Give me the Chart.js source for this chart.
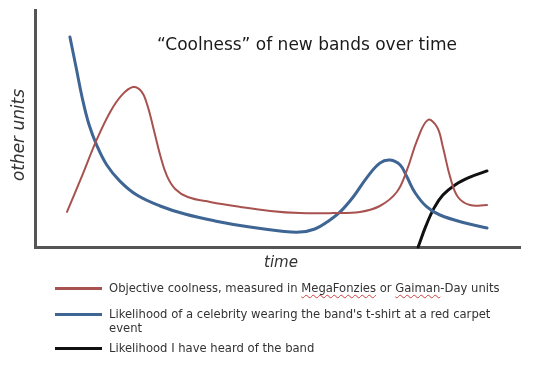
<!DOCTYPE html>
<html>
<head>
<meta charset="utf-8">
<script src="https://cdn.jsdelivr.net/npm/chart.js@4.4.1/dist/chart.umd.min.js"></script>
<style>
  html, body { margin: 0; padding: 0; background: #fff; }
  #wrap { position: relative; width: 540px; height: 372px; overflow: hidden; }
  canvas { position: absolute; left: 0; top: 0; }
  .leg { position: absolute; left: 55px; font-family: "DejaVu Sans", sans-serif; font-size: 11.6px; color: #333; line-height: 14px; }
  .leg .sw { position: absolute; left: 0; width: 47px; height: 3px; }
  .leg .tx { position: absolute; left: 54px; width: 402px; white-space: normal; }
  .sp { text-decoration: underline wavy #d04040; text-decoration-thickness: 1px; text-underline-offset: 2px; }
</style>
</head>
<body>
<div id="wrap">
  <canvas id="c" width="540" height="372"></canvas>
  <div class="leg" style="top:281px"><div class="sw" style="top:6px;background:#A8524F"></div><div class="tx" id="l0"></div></div>
  <div class="leg" style="top:307px"><div class="sw" style="top:6px;background:#3E6594"></div><div class="tx" id="l1"></div></div>
  <div class="leg" style="top:341px"><div class="sw" style="top:6px;background:#111"></div><div class="tx" id="l2"></div></div>
</div>
<script>
// ---- data (time vs "other units") ----
const seriesNames = [
  "Objective coolness, measured in MegaFonzies or Gaiman-Day units",
  "Likelihood of a celebrity wearing the band's t-shirt at a red carpet event",
  "Likelihood I have heard of the band"
];
const coolX = [6.6, 9.7, 12.6, 15.5, 17.9, 20.2, 21.9, 23.1, 24.3, 25.8, 27.2, 28.9, 31.5, 36.1, 42.3, 48.5, 54.6, 61.4, 67.0, 71.1, 74.6, 76.7, 78.8, 81.0, 82.9, 84.1, 85.6, 87.2, 89.7, 93.2];
const coolY = [14.8, 30.0, 44.7, 57.0, 64.1, 67.5, 65.8, 60.3, 51.1, 38.8, 30.0, 24.5, 21.1, 19.0, 16.9, 15.2, 14.3, 14.3, 14.8, 17.3, 23.2, 32.5, 45.1, 53.6, 50.6, 42.2, 29.5, 21.1, 17.7, 17.7];
const celebX = [7.2, 8.5, 9.7, 11.1, 12.8, 14.8, 17.5, 21.0, 25.8, 30.9, 37.1, 44.3, 50.5, 54.6, 57.7, 60.2, 62.9, 65.6, 68.5, 71.1, 73.2, 75.3, 76.7, 78.4, 80.8, 83.5, 88.7, 93.2];
const celebY = [88.6, 75.5, 63.3, 51.9, 42.6, 34.6, 27.8, 21.9, 17.3, 13.9, 11.0, 8.4, 6.8, 6.3, 7.6, 10.5, 14.8, 21.1, 29.5, 35.4, 36.7, 34.6, 29.5, 22.8, 16.9, 13.5, 10.1, 8.0];
const heardX = [79.0, 80.6, 82.3, 84.1, 86.6, 89.7, 93.2];
const heardY = [0, 8.9, 16.5, 21.9, 26.2, 29.5, 32.1];
const titleText = "\u201CCoolness\u201D of new bands over time";
const xTitle = "time";
const yTitle = "other units";

const pts = (xs, ys) => xs.map((x, i) => ({ x, y: ys[i] }));
const colors = ["#A8524F", "#3E6594", "#111111"];

// legend (HTML text)
document.getElementById('l0').innerHTML = 'Objective coolness, measured in <span class="sp">MegaFonzies</span> or <span class="sp">Gaiman</span>-Day units';
document.getElementById('l1').textContent = seriesNames[1];
document.getElementById('l2').textContent = seriesNames[2];

function fitFont(ctx, text, targetW, style, family) {
  let size = 20;
  ctx.font = style + " " + size + "px " + family;
  const w = ctx.measureText(text).width;
  size = size * targetW / w;
  ctx.font = style + " " + size.toFixed(2) + "px " + family;
  return size;
}

const textPlugin = {
  id: 'texts',
  afterDraw(chart) {
    const ctx = chart.ctx;
    const fam = '"DejaVu Sans", sans-serif';
    ctx.save();
    ctx.fillStyle = '#1a1a1a';
    ctx.textAlign = 'center';
    ctx.textBaseline = 'middle';
    fitFont(ctx, titleText, 300, 'normal', fam);
    ctx.fillText(titleText, 307, 46);
    ctx.fillStyle = '#333';
    fitFont(ctx, xTitle, 34, 'italic', fam);
    ctx.fillText(xTitle, 281, 263);
    ctx.translate(20, 135);
    ctx.rotate(-Math.PI / 2);
    fitFont(ctx, yTitle, 92, 'italic', fam);
    ctx.fillText(yTitle, 0, 0);
    ctx.restore();
  }
};

new Chart(document.getElementById('c'), {
  type: 'scatter',
  data: {
    datasets: [
      { label: seriesNames[0], data: pts(coolX, coolY), borderColor: colors[0], borderWidth: 2 },
      { label: seriesNames[1], data: pts(celebX, celebY), borderColor: colors[1], borderWidth: 3 },
      { label: seriesNames[2], data: pts(heardX, heardY), borderColor: colors[2], borderWidth: 3 }
    ].map(d => Object.assign(d, { showLine: true, pointRadius: 0, pointHoverRadius: 0, tension: 0.4, fill: false, clip: false, borderCapStyle: 'round', borderJoinStyle: 'round' }))
  },
  options: {
    responsive: false,
    animation: false,
    events: [],
    layout: { padding: { left: 35, right: 20, top: 10, bottom: 125 } },
    plugins: { legend: { display: false }, tooltip: { enabled: false }, title: { display: false } },
    scales: {
      x: {
        type: 'linear', min: 0, max: 100,
        grid: { display: false },
        ticks: { display: false },
        border: { display: true, color: '#555', width: 3 },
        afterFit(s) { s.height = 0; }
      },
      y: {
        type: 'linear', min: 0, max: 100,
        grid: { display: false },
        ticks: { display: false },
        border: { display: true, color: '#555', width: 3 },
        afterFit(s) { s.width = 0; }
      }
    }
  },
  plugins: [textPlugin]
});
</script>
</body>
</html>
